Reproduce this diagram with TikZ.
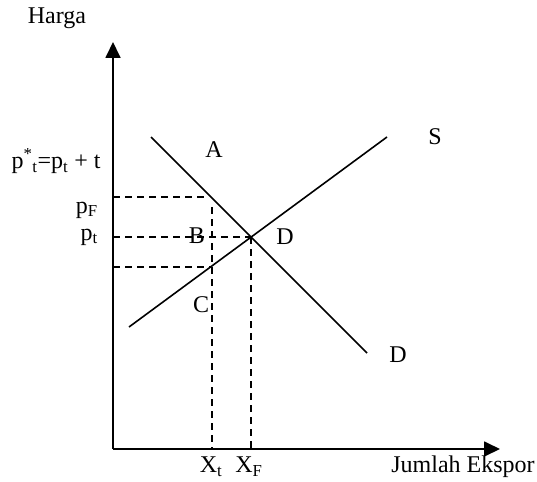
\documentclass[tikz,border=0pt]{standalone}
\usepackage{fontspec}
\setmainfont{Liberation Serif}
\usetikzlibrary{arrows.meta}
\begin{document}
\begin{tikzpicture}[x=1pt,y=-1pt,
  axis/.style={line width=1.8pt,-{Triangle[length=16pt,width=15pt]}},
  curve/.style={line width=1.6pt},
  guide/.style={line width=1.7pt,dash pattern=on 7pt off 5pt},
  lbl/.style={inner sep=0pt,font=\fontsize{24}{27}\selectfont}]
\useasboundingbox (0,0) rectangle (537,481);
\coordinate (O) at (113,449);
\coordinate (Ytop) at (113,42);
\coordinate (Xend) at (500,449);
\coordinate (D1) at (151,137);
\coordinate (D2) at (367,353);
\coordinate (S1) at (129,327);
\coordinate (S2) at (387,137);
\coordinate (E) at (251,237);
\coordinate (F) at (206,197);
\coordinate (Ft) at (212,207);
\coordinate (G) at (212,267);
\coordinate (yF) at (113,197);
\coordinate (yt) at (113,237);
\coordinate (yG) at (113,267);
\coordinate (xt) at (212,449);
\coordinate (xF) at (251,449);
\draw[axis] (O) -- (Ytop);
\draw[axis] (O) -- (Xend);
\draw[curve] (D1) -- (D2);
\draw[curve] (S1) -- (S2);
\draw[guide] (yF) -- (F);
\draw[guide] (yt) -- (E);
\draw[guide] (yG) -- (G);
\draw[guide] (Ft) -- (xt);
\draw[guide] (E) -- (xF);
\node[lbl] (harga) at (57,18) {Harga};
\node[lbl] (pstar) at (56,161) {p\textsuperscript{*}\textsubscript{t}=p\textsubscript{t} + t};
\node[lbl,anchor=east] (pF) at (98,210) {p\textsubscript{F}};
\node[lbl,anchor=east] (pt) at (98,237) {p\textsubscript{t}};
\node[lbl] (A) at (214,150) {A};
\node[lbl] (B) at (197,236) {B};
\node[lbl] (C) at (201,305) {C};
\node[lbl] (Dm) at (285,237) {D};
\node[lbl] (S) at (435,137) {S};
\node[lbl] (Dd) at (398,355) {D};
\node[lbl] (Xt) at (211,467) {X\textsubscript{t}};
\node[lbl] (XF) at (249,467) {X\textsubscript{F}};
\node[lbl] (JE) at (463,467) {Jumlah Ekspor};
\end{tikzpicture}
\end{document}
